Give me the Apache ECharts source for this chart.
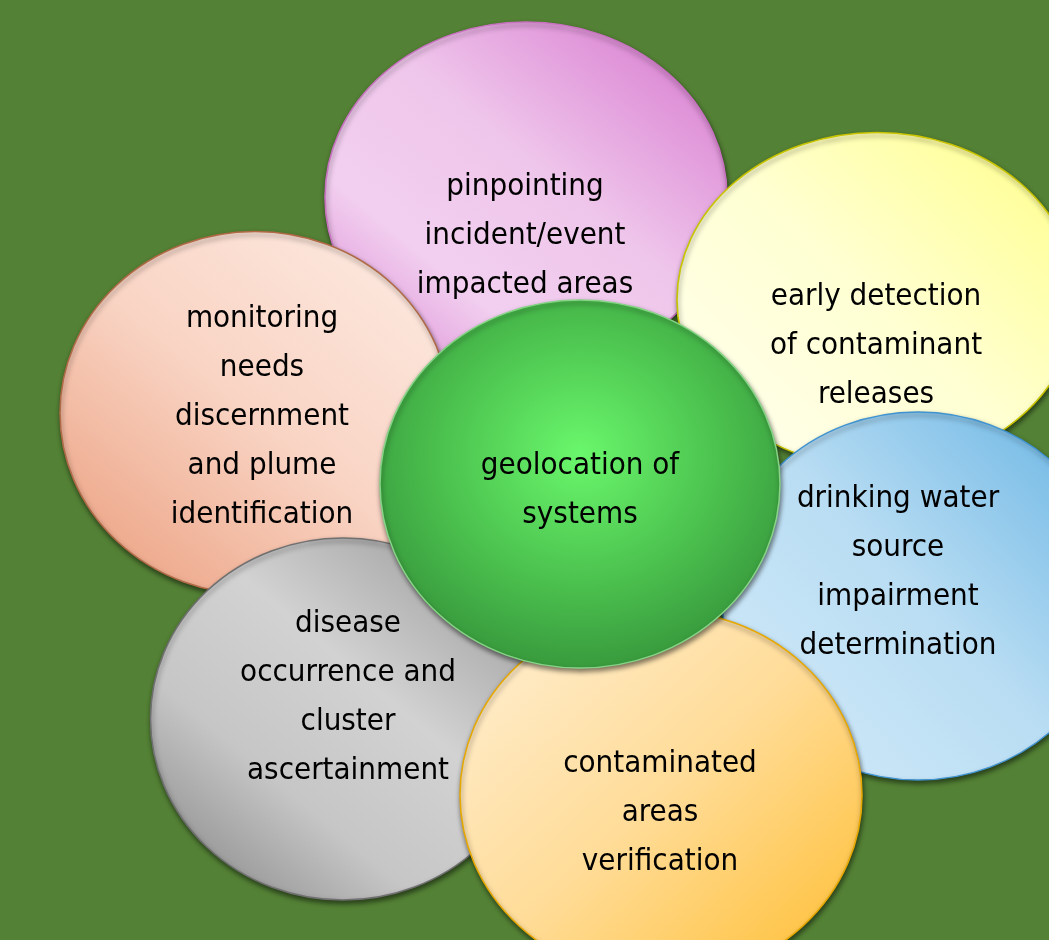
<!DOCTYPE html>
<html>
<head>
<meta charset="utf-8">
<script src="https://cdn.jsdelivr.net/npm/echarts@6/dist/echarts.min.js"></script>
<style>
html,body{margin:0;padding:0;background:#538135;}
#chart{width:1049px;height:940px;}
</style>
</head>
<body>
<div id="chart"></div>
<script>
// petals, drawn back to front (the centre one last)
var labels = [
	'pinpointing\nincident/event\nimpacted areas',
	'monitoring\nneeds\ndiscernment\nand plume\nidentification',
	'early detection\nof contaminant\nreleases',
	'drinking water\nsource\nimpairment\ndetermination',
	'disease\noccurrence and\ncluster\nascertainment',
	'contaminated\nareas\nverification',
	'geolocation of\nsystems'
];
// ellipse centres and extents, in chart units (0..1049 x 0..940)
var centerX = [526, 255, 877, 918, 343, 661, 580];
var centerY = [197, 413, 300, 596, 719, 795, 484];
var spanX   = [402, 390, 400, 392, 385, 402, 400];
var spanY   = [350, 363, 335, 368, 362, 370, 368];
// where each block of text sits
var textX = [525, 262, 876, 898, 348, 660, 580];
var textY = [236, 417, 346, 572, 697, 813, 490];

var LG = echarts.graphic.LinearGradient;
var RG = echarts.graphic.RadialGradient;
var fills = [
	new LG(0.95, 0.05, 0.1, 0.95, [{offset:0,color:'#d87bd0'},{offset:0.45,color:'#efc6eb'},{offset:0.75,color:'#f2cff0'},{offset:1,color:'#dd92d6'}]),
	new LG(0.9, 0.05, 0.1, 0.95, [{offset:0,color:'#fde9e0'},{offset:0.5,color:'#f9d4c4'},{offset:1,color:'#eca384'}]),
	new LG(0.05, 0.9, 0.95, 0.1, [{offset:0,color:'#ffffec'},{offset:0.5,color:'#ffffd2'},{offset:1,color:'#ffff92'}]),
	new LG(0.05, 0.9, 0.95, 0.1, [{offset:0,color:'#d0e9f8'},{offset:0.5,color:'#b9ddf3'},{offset:1,color:'#70b8e5'}]),
	new LG(0.9, 0.05, 0.1, 0.95, [{offset:0,color:'#9c9c9c'},{offset:0.4,color:'#d2d2d2'},{offset:0.7,color:'#c6c6c6'},{offset:1,color:'#8e8e8e'}]),
	new LG(0.05, 0.05, 0.95, 0.95, [{offset:0,color:'#ffeed0'},{offset:0.5,color:'#ffdc98'},{offset:1,color:'#ffc038'}]),
	new RG(0.5, 0.42, 0.62, [{offset:0,color:'#6af76c'},{offset:0.55,color:'#4cc24f'},{offset:1,color:'#35943a'}])
];
var borders = ['#c872c0', '#b06a45', '#c9c400', '#3f93d0', '#707070', '#e6a800', '#86d486'];

var petals = [];
var texts = [];
for (var i = 0; i < labels.length; i++) {
	petals.push({
		value: [centerX[i], centerY[i]],
		symbolSize: [spanX[i], spanY[i]],
		itemStyle: {color: fills[i], borderColor: borders[i], borderWidth: 1.5}
	});
	texts.push({value: [textX[i], textY[i]], text: labels[i]});
}

var chart = echarts.init(document.getElementById('chart'));
chart.setOption({
	backgroundColor: '#538135',
	animation: false,
	grid: {left: 0, right: 0, top: 0, bottom: 0},
	xAxis: {type: 'value', min: 0, max: 1049, show: false},
	yAxis: {type: 'value', min: 0, max: 940, inverse: true, show: false},
	series: [
		{
			type: 'scatter',
			symbol: 'circle',
			silent: true,
			emphasis: {disabled: true},
			itemStyle: {
				opacity: 1,
				shadowColor: 'rgba(0,0,0,0.5)',
				shadowBlur: 5,
				shadowOffsetX: 1,
				shadowOffsetY: 3
			},
			data: petals
		},
		{
			type: 'scatter',
			symbolSize: 0,
			silent: true,
			z: 5,
			emphasis: {disabled: true},
			itemStyle: {opacity: 1},
			label: {
				show: true,
				position: 'inside',
				formatter: function (p) { return p.data.text; },
				fontFamily: 'DejaVu Sans Condensed',
				fontSize: 31,
				lineHeight: 49,
				color: '#000',
				opacity: 1,
				textBorderWidth: 0,
				align: 'center',
				verticalAlign: 'middle'
			},
			data: texts
		}
	]
});
</script>
</body>
</html>
